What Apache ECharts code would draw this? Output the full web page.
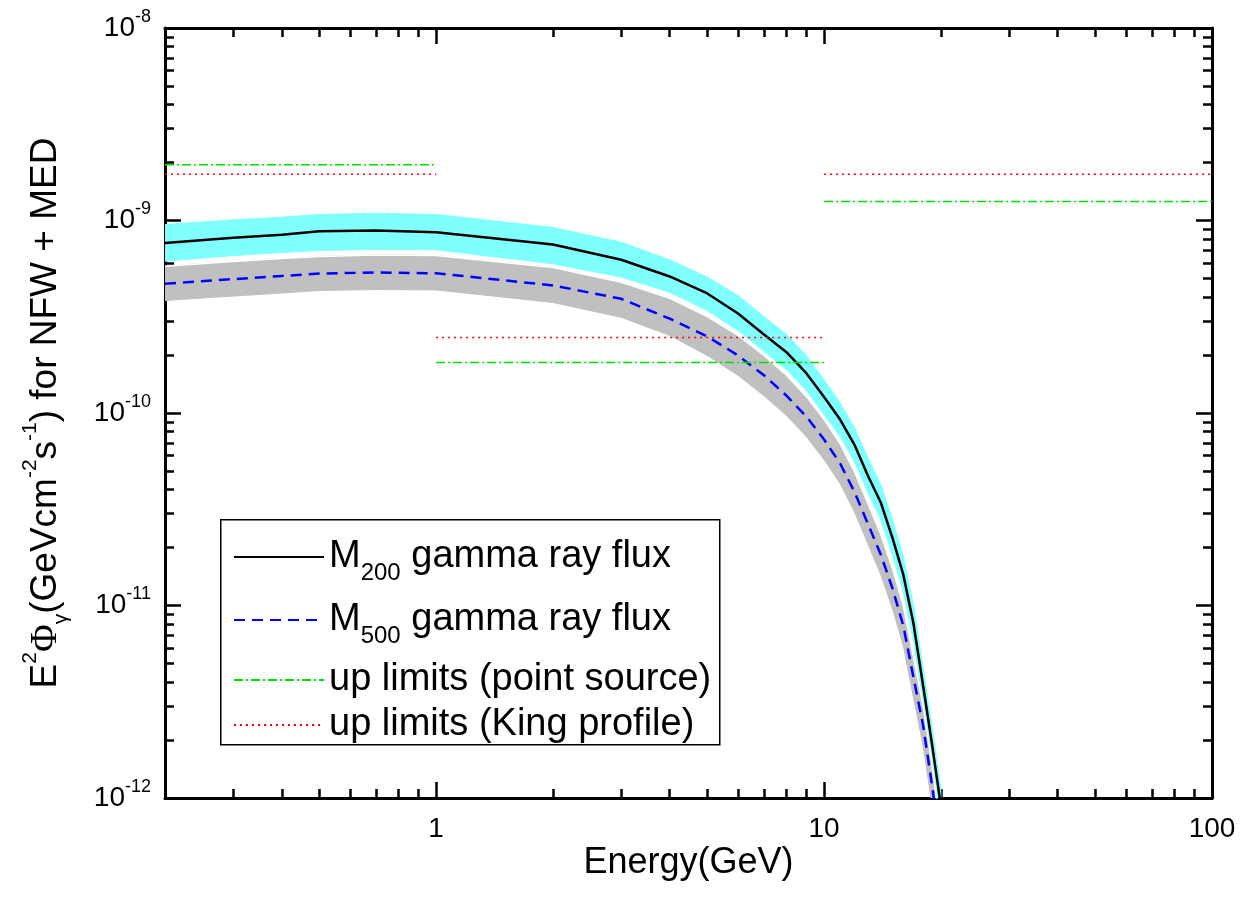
<!DOCTYPE html>
<html style="height: 100%">
<head>
  <meta charset="utf-8">
</head>
<body style="height: 100%; margin: 0; background: #fff">
  <div id="container" style="width: 1243px; height: 909px"></div>

  <script type="text/javascript" src="https://cdn.jsdelivr.net/npm/echarts@6/dist/echarts.min.js"></script>
  <script type="text/javascript">
    // energies in GeV, fluxes E^2 Phi in GeV cm^-2 s^-1
    const energy = [0.2, 0.3, 0.4, 0.5, 0.7, 1, 2, 3, 4, 5, 6, 7, 8, 9, 10, 11, 12, 13, 14, 15, 16, 17, 18, 19, 20];
    const fluxM200 = [7.64e-10, 8.13e-10, 8.43e-10, 8.80e-10, 8.87e-10, 8.69e-10, 7.50e-10, 6.25e-10, 5.12e-10, 4.18e-10, 3.29e-10, 2.56e-10, 2.07e-10, 1.61e-10, 1.21e-10, 9.25e-11, 6.78e-11, 4.68e-11, 3.43e-11, 2.25e-11, 1.45e-11, 8.06e-12, 3.84e-12, 1.87e-12, 9.14e-13];
    const bandM200Hi = [9.53e-10, 1.008e-9, 1.04e-9, 1.075e-9, 1.09e-9, 1.075e-9, 9.2e-10, 7.71e-10, 6.25e-10, 5.08e-10, 4.08e-10, 3.17e-10, 2.56e-10, 1.99e-10, 1.49e-10, 1.13e-10, 8.31e-11, 5.80e-11, 4.25e-11, 2.80e-11, 1.80e-11, 1.0e-11, 4.76e-12, 2.32e-12, 1.13e-12];
    const bandM200Lo = [6.15e-10, 6.58e-10, 6.82e-10, 6.99e-10, 7.07e-10, 7.04e-10, 5.96e-10, 5.08e-10, 4.24e-10, 3.41e-10, 2.68e-10, 2.09e-10, 1.68e-10, 1.31e-10, 9.82e-11, 7.55e-11, 5.53e-11, 3.82e-11, 2.80e-11, 1.84e-11, 1.18e-11, 6.58e-12, 3.13e-12, 1.53e-12, 7.46e-13];
    const fluxM500 = [4.69e-10, 4.96e-10, 5.15e-10, 5.30e-10, 5.37e-10, 5.32e-10, 4.60e-10, 3.92e-10, 3.09e-10, 2.50e-10, 1.99e-10, 1.57e-10, 1.23e-10, 9.59e-11, 7.28e-11, 5.47e-11, 3.86e-11, 2.63e-11, 1.84e-11, 1.23e-11, 7.87e-12, 4.23e-12, 2.38e-12, 1.15e-12, 5.34e-13];
    const bandM500Hi = [5.79e-10, 6.12e-10, 6.35e-10, 6.50e-10, 6.62e-10, 6.58e-10, 5.70e-10, 4.78e-10, 3.94e-10, 3.17e-10, 2.53e-10, 1.99e-10, 1.57e-10, 1.22e-10, 9.25e-11, 6.94e-11, 4.91e-11, 3.35e-11, 2.34e-11, 1.56e-11, 1.0e-11, 5.37e-12, 3.02e-12, 1.46e-12, 6.78e-13];
    const bandM500Lo = [3.84e-10, 4.05e-10, 4.20e-10, 4.33e-10, 4.38e-10, 4.36e-10, 3.75e-10, 3.14e-10, 2.53e-10, 1.99e-10, 1.57e-10, 1.23e-10, 9.70e-11, 7.55e-11, 5.73e-11, 4.30e-11, 3.04e-11, 2.07e-11, 1.45e-11, 9.65e-12, 6.20e-12, 3.33e-12, 1.87e-12, 9.03e-13, 4.20e-13];

    // upper limits, one flat value per energy bin
    const limitEdges = [0.2, 1, 10, 100];
    const pointLimits = [1.95e-9, 1.83e-10, 1.255e-9];
    const kingLimits = [1.74e-9, 2.47e-10, 1.74e-9];

    // tick positions
    const xMajor = [1, 10, 100];
    const xMinor = [0.3, 0.4, 0.5, 0.6, 0.7, 0.8, 0.9, 2, 3, 4, 5, 6, 7, 8, 9, 20, 30, 40, 50, 60, 70, 80, 90];
    const yMajor = [1e-12, 1e-11, 1e-10, 1e-9, 1e-8];
    const yMinor = [];
    [1e-12, 1e-11, 1e-10, 1e-9].forEach(function (d) {
      for (let k = 2; k <= 9; k++) yMinor.push(k * d);
    });

    const font = 'Liberation Sans, Arial, sans-serif';
    const pts = arr => energy.map((e, i) => [e, arr[i]]);
    // band pieces: [E0, lo0, hi0, E1, lo1, hi1]
    const bandPieces = (lo, hi) => energy.slice(0, -1).map((e, i) =>
      [e, lo[i], hi[i], energy[i + 1], lo[i + 1], hi[i + 1]]);

    function bandSeries(name, lo, hi, color, z) {
      return {
        name: name, type: 'custom', silent: true, clip: true, z: z,
        data: bandPieces(lo, hi),
        encode: { x: [0, 3], y: [1, 2, 4, 5] },
        renderItem: function (params, api) {
          const a = api.coord([api.value(0), api.value(1)]);
          const b = api.coord([api.value(0), api.value(2)]);
          const c = api.coord([api.value(3), api.value(5)]);
          const d = api.coord([api.value(3), api.value(4)]);
          return {
            type: 'polygon',
            shape: { points: [a, b, c, d] },
            style: { fill: color, stroke: color, lineWidth: 1 }
          };
        }
      };
    }

    function xAx(pos, ticks, len, line, labels) {
      return {
        type: 'log', logBase: 10, min: 0.2, max: 100, position: pos,
        axisLine: { show: line, onZero: false, lineStyle: { color: '#000', width: 3 } },
        axisTick: { show: true, inside: true, length: len, customValues: ticks, lineStyle: { color: '#000', width: 2.5 } },
        axisLabel: labels ? {
          show: true, customValues: xMajor, margin: 17, color: '#000', fontFamily: font, fontSize: 28
        } : { show: false },
        splitLine: { show: false }
      };
    }
    function yAx(pos, ticks, len, line, labels) {
      return {
        type: 'log', logBase: 10, min: 1e-12, max: 1e-8, position: pos,
        axisLine: { show: line, onZero: false, lineStyle: { color: '#000', width: 3 } },
        axisTick: { show: true, inside: true, length: len, customValues: ticks, lineStyle: { color: '#000', width: 2.5 } },
        axisLabel: labels ? {
          show: true, customValues: yMajor, margin: 14, color: '#000',
          formatter: function (v) {
            return '{b|10}{s|' + Math.round(Math.log10(v)) + '}';
          },
          rich: {
            b: { fontFamily: font, fontSize: 28, lineHeight: 40, color: '#000' },
            s: { fontFamily: font, fontSize: 18, lineHeight: 18, verticalAlign: 'top', color: '#000' }
          }
        } : { show: false },
        splitLine: { show: false }
      };
    }

    const xAxes = [
      xAx('bottom', [1, 10], 16, true, true),
      xAx('bottom', xMinor, 9, false, false),
      xAx('top', [1, 10], 16, true, false),
      xAx('top', xMinor, 9, false, false)
    ];
    Object.assign(xAxes[0], {
      name: 'Energy(GeV)', nameLocation: 'middle', nameGap: 47, nameMoveOverlap: false,
      nameTextStyle: { fontFamily: font, fontSize: 36, color: '#000' }
    });
    const yAxes = [
      yAx('left', yMajor, 16, true, true),
      yAx('left', yMinor, 9, false, false),
      yAx('right', yMajor, 16, true, false),
      yAx('right', yMinor, 9, false, false)
    ];
    Object.assign(yAxes[0], {
      name: '{t|E}{u|2}{p|Φ}{d|γ}{t|(GeVcm}{u|-2}{t|s}{u|-1}{t|) for NFW + MED}',
      nameLocation: 'middle', nameGap: 93, nameMoveOverlap: false,
      nameTextStyle: {
        color: '#000',
        rich: {
          t: { fontFamily: font, fontSize: 37, lineHeight: 52, color: '#000' },
          p: { fontFamily: 'Liberation Serif, serif', fontSize: 38, lineHeight: 52, color: '#000' },
          u: { fontFamily: font, fontSize: 21, lineHeight: 22, verticalAlign: 'top', color: '#000' },
          d: { fontFamily: font, fontSize: 21, lineHeight: 20, verticalAlign: 'bottom', color: '#000' }
        }
      }
    });

    const seriesList = [
      bandSeries('cyanBand', bandM200Lo, bandM200Hi, '#80ffff', 1),
      bandSeries('grayBand', bandM500Lo, bandM500Hi, '#c0c0c0', 2),
      { name: 'grayEdge', type: 'line', data: pts(bandM500Hi), symbol: 'none', silent: true,
        lineStyle: { color: '#ffffff', width: 1.5 }, z: 3 },
      { name: 'm200', type: 'line', data: pts(fluxM200), symbol: 'none',
        itemStyle: { color: '#000000' },
        lineStyle: { color: '#000000', width: 2.5 }, z: 4 },
      { name: 'm500', type: 'line', data: pts(fluxM500), symbol: 'none',
        itemStyle: { color: '#0000ff' },
        lineStyle: { color: '#0000ff', width: 2.5, type: [11, 7] }, z: 4 }
    ];
    [['point', pointLimits, { color: '#00e000', width: 1.5, type: [9, 3, 2, 3] }],
     ['king', kingLimits, { color: '#ff0000', width: 1.5, type: [2, 4] }]].forEach(function (s) {
      s[1].forEach(function (v, i) {
        seriesList.push({
          name: s[0], type: 'line', symbol: 'none', z: 5,
          itemStyle: { color: s[2].color },
          data: [[limitEdges[i], v], [limitEdges[i + 1], v]],
          lineStyle: s[2]
        });
      });
    });

    // legend rows: text and vertical position of each entry
    const legendNames = ['m200', 'm500', 'point', 'king'];
    const legendText = {
      m200: '{m|M}{s|200}{m| gamma ray flux}',
      m500: '{m|M}{s|500}{m| gamma ray flux}',
      point: '{m|up limits (point source)}',
      king: '{m|up limits (King profile)}'
    };
    const legendTops = [538, 601, 661, 706];

    const legends = legendNames.map(function (n, i) {
      return {
        data: [n],
        orient: 'vertical',
        left: 233, top: legendTops[i],
        padding: 0,
        itemWidth: 90,
        itemHeight: 14,
        selectedMode: false,
        itemStyle: { opacity: 0 },
        formatter: function (name) { return legendText[name]; },
        textStyle: {
          color: '#000',
          rich: {
            m: { fontFamily: font, fontSize: 38, lineHeight: 56, color: '#000' },
            s: { fontFamily: font, fontSize: 24, lineHeight: 16, verticalAlign: 'bottom', color: '#000' }
          }
        }
      };
    });

    const option = {
      animation: false,
      backgroundColor: '#ffffff',
      grid: { left: 165, top: 28, right: 31, bottom: 111, containLabel: false, outerBoundsMode: 'none' },
      xAxis: xAxes,
      yAxis: yAxes,
      legend: legends,
      graphic: [{
        type: 'rect', left: 220, top: 519, z: 3,
        shape: { width: 499, height: 225 },
        style: { fill: '#ffffff', stroke: '#000000', lineWidth: 1.5 }
      }],
      series: seriesList
    };

    const myChart = echarts.init(document.getElementById('container'));
    myChart.setOption(option);
  </script>
</body>
</html>
